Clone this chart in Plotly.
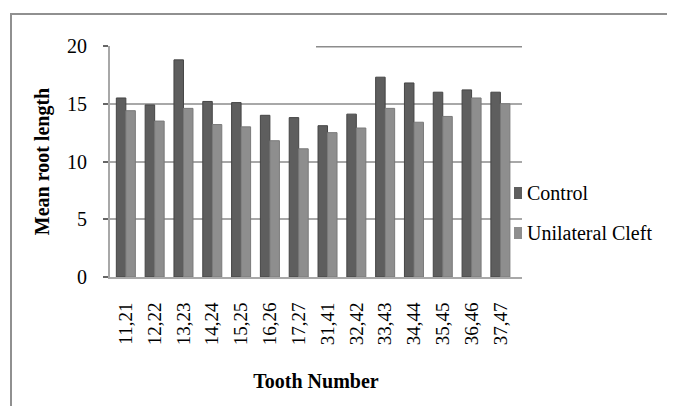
import plotly.graph_objects as go

categories = ["11,21", "12,22", "13,23", "14,24", "15,25", "16,26", "17,27",
              "31,41", "32,42", "33,43", "34,44", "35,45", "36,46", "37,47"]
control = [15.5, 14.9, 18.8, 15.2, 15.1, 14.0, 13.8, 13.1, 14.1, 17.3, 16.8, 16.0, 16.2, 16.0]
cleft = [14.4, 13.5, 14.6, 13.2, 13.0, 11.8, 11.1, 12.5, 12.9, 14.6, 13.4, 13.9, 15.5, 15.0]
y_ticks = [0, 5, 10, 15, 20]

FONT = "Liberation Serif"
C_DARK = "#5e5e5e"
C_LIGHT = "#8e8e8e"
GRID = "#a8a8a8"

# page body has an 8px margin: size the figure to fill the rest of the window
OFF = 8
W, H = 675 - OFF, 406 - OFF
# plot area in window pixels: x 110..522, y 46..277
L, R, T, B = 110 - OFF, 675 - 522, 46 - OFF, 406 - 277

fig = go.Figure()
fig.add_trace(go.Bar(name="Control", x=categories, y=control,
                     marker=dict(color=C_DARK, line=dict(color="#454545", width=1))))
fig.add_trace(go.Bar(name="Unilateral Cleft", x=categories, y=cleft,
                     marker=dict(color=C_LIGHT, line=dict(color="#7a7a7a", width=1))))

fig.update_layout(
    width=W, height=H,
    margin=dict(l=L, r=R, t=T, b=B),
    paper_bgcolor="white", plot_bgcolor="white",
    barmode="group", bargap=0.34, bargroupgap=0.0,
    showlegend=False,
    font=dict(family=FONT, size=19, color="black"),
    xaxis=dict(
        range=[-0.55, 13.75],
        tickangle=-90, ticks="", ticklabelstandoff=16,
        tickfont=dict(family=FONT, size=19, color="black"),
        showline=True, linecolor=GRID, linewidth=2,
        showgrid=False,
        title=dict(text="<b>Tooth Number</b>", font=dict(family=FONT, size=20, color="black"), standoff=30),
    ),
    yaxis=dict(
        range=[0, 20], tickvals=y_ticks,
        ticks="outside", ticklen=5, tickcolor="#666666", tickwidth=2,
        ticklabelstandoff=12,
        tickfont=dict(family=FONT, size=20, color="black"),
        showline=True, linecolor=GRID, linewidth=2,
        showgrid=True, gridcolor=GRID, gridwidth=2,
        zeroline=False,
        title=dict(text="<b>Mean root length</b>", font=dict(family=FONT, size=20, color="black"), standoff=12),
    ),
)

px_w = W - L - R
px_h = H - T - B
def px2x(px):  # window pixel x -> paper
    return (px - OFF - L) / px_w
def py2y(py):  # window pixel y -> paper
    return (H - B - (py - OFF)) / px_h

# outer chart frame (top and left edges)
fig.add_shape(type="line", xref="paper", yref="paper",
              x0=px2x(10), x1=px2x(676), y0=py2y(14), y1=py2y(14),
              line=dict(color="#909090", width=2))
fig.add_shape(type="line", xref="paper", yref="paper",
              x0=px2x(11), x1=px2x(11), y0=py2y(14), y1=py2y(410),
              line=dict(color="#909090", width=2))
# thicker segment of the top gridline
fig.add_shape(type="line", xref="x", yref="y",
              x0=6.6, x1=13.75, y0=20, y1=20,
              line=dict(color="#8c8c8c", width=3))

# manual legend
for name, color, yc in [("Control", C_DARK, 193), ("Unilateral Cleft", C_LIGHT, 233)]:
    fig.add_shape(type="rect", xref="paper", yref="paper",
                  x0=px2x(514), x1=px2x(522), y0=py2y(yc + 6), y1=py2y(yc - 6),
                  fillcolor=color, line=dict(width=0))
    fig.add_annotation(text=name, xref="paper", yref="paper",
                       x=px2x(525), y=py2y(yc), xanchor="left", yanchor="middle",
                       showarrow=False, font=dict(family=FONT, size=20, color="black"))

fig.write_html("out.html")
